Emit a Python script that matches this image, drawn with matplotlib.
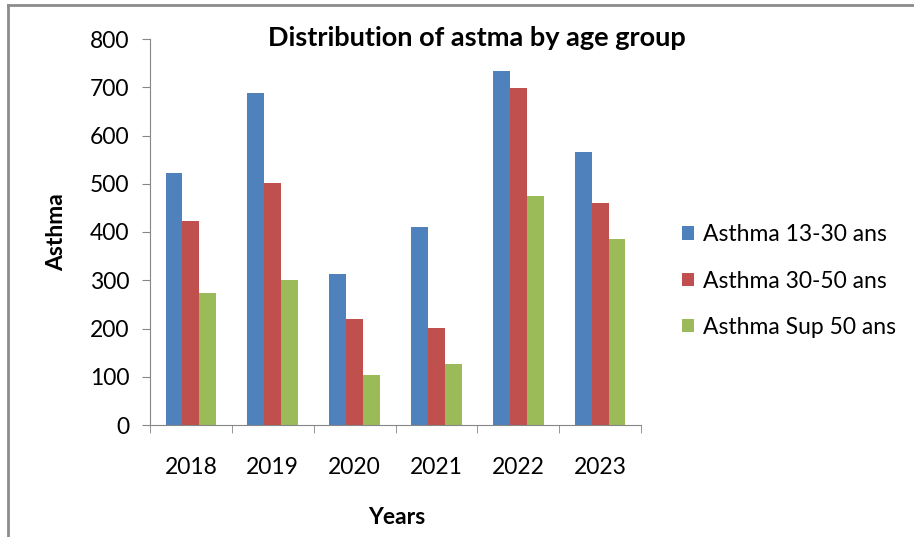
import matplotlib
matplotlib.use("Agg")
import matplotlib.pyplot as plt
import numpy as np
from matplotlib.lines import Line2D

years = ["2018", "2019", "2020", "2021", "2022", "2023"]
series_names = ["Asthma 13-30 ans", "Asthma 30-50 ans", "Asthma Sup 50 ans"]
asthma_13_30 = [522, 688, 313, 410, 733, 566]
asthma_30_50 = [423, 502, 220, 202, 698, 461]
asthma_sup_50 = [273, 301, 103, 126, 474, 385]
colors = ["#4F81BD", "#C0504D", "#9BBB59"]

plt.rcParams['font.family'] = ['Lato', 'DejaVu Sans']
FS = 16.5

fig = plt.figure(figsize=(9.14, 5.37), dpi=100)
fig.lines.append(Line2D([8/914, 8/914], [0, 1 - 5/537], transform=fig.transFigure,
                        color="#8c8c8c", linewidth=2))
fig.lines.append(Line2D([8/914, 1], [1 - 5/537, 1 - 5/537], transform=fig.transFigure,
                        color="#8c8c8c", linewidth=2))
ax = fig.add_axes([150/914, 1 - 425/537, (641 - 150)/914, (425 - 39)/537])

x = np.arange(len(years))
w = 0.207
for i, (vals, name) in enumerate(zip([asthma_13_30, asthma_30_50, asthma_sup_50], series_names)):
    ax.bar(x + (i - 1) * w, vals, width=w, color=colors[i], label=name, linewidth=0)

ax.set_xlim(-0.5, len(years) - 0.5)
ax.set_ylim(0, 800)
ax.set_yticks(range(0, 801, 100))
ax.tick_params(axis='y', labelsize=FS, length=6, color="#868686", pad=9)
ax.set_xticks(x)
ax.set_xticklabels(years)
ax.tick_params(axis='x', which='major', length=0, labelsize=FS, pad=23)
ax.set_xticks(np.arange(-0.5, len(years)), minor=True)
ax.tick_params(axis='x', which='minor', length=6, color="#868686")
for s in ["top", "right"]:
    ax.spines[s].set_visible(False)
for s in ["left", "bottom"]:
    ax.spines[s].set_color("#868686")

fig.text(477/914, 1 - 38/537, "Distribution of astma by age group", fontsize=19.5,
         fontweight="bold", ha="center", va="center")
ax.set_ylabel("Asthma", fontsize=FS, fontweight="bold")
ax.yaxis.set_label_coords((57 - 150)/491, (425 - 232)/386)
ax.yaxis.label.set_va("center")
ax.set_xlabel("Years", fontsize=FS, fontweight="bold")
ax.xaxis.set_label_coords((397 - 150)/491, (425 - 517)/386)
ax.xaxis.label.set_va("center")

ax.legend(loc="center left", bbox_to_anchor=(682/914, 1 - 281/537),
          bbox_transform=fig.transFigure, frameon=False, fontsize=FS,
          borderaxespad=0, borderpad=0,
          handlelength=0.52, handleheight=0.52, labelspacing=1.1, handletextpad=0.4)

fig.savefig("out.png", dpi=100)
